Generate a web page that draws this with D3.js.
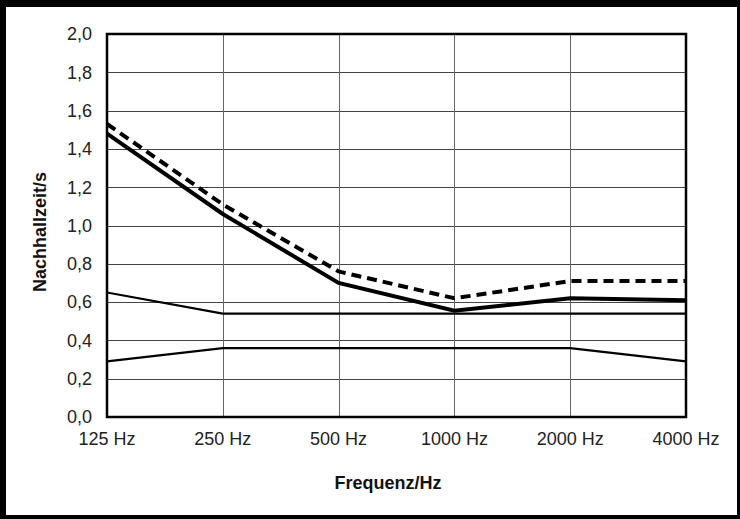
<!DOCTYPE html>
<html>
<head>
<meta charset="utf-8">
<script src="https://cdn.jsdelivr.net/npm/d3@7"></script>
<style>
  body { margin: 0; background: #fff; }
  svg { display: block; font-family: "Liberation Sans", Arial, sans-serif; }
</style>
</head>
<body>
<div id="chart"></div>
<script>
const frequencies = ['125 Hz', '250 Hz', '500 Hz', '1000 Hz', '2000 Hz', '4000 Hz'];
const measuredDashed = [1.53, 1.11, 0.76, 0.62, 0.71, 0.71];
const measuredSolid = [1.48, 1.06, 0.70, 0.555, 0.62, 0.61];
const upperLimit = [0.65, 0.54, 0.54, 0.54, 0.54, 0.54];
const lowerLimit = [0.29, 0.36, 0.36, 0.36, 0.36, 0.29];
const yTicks = [0, 0.2, 0.4, 0.6, 0.8, 1.0, 1.2, 1.4, 1.6, 1.8, 2.0];

const W = 740, H = 519;
const margin = {top: 34, right: 54, bottom: 102, left: 107};
const width = W - margin.left - margin.right;
const height = H - margin.top - margin.bottom;

const svg = d3.select('#chart').append('svg')
    .attr('width', W)
    .attr('height', H);

// outer frame (thicker on top/left like the picture)
svg.append('rect').attr('x', 0).attr('y', 0).attr('width', W).attr('height', 7).attr('fill', '#000');
svg.append('rect').attr('x', 0).attr('y', 0).attr('width', 6).attr('height', H).attr('fill', '#000');
svg.append('rect').attr('x', W - 3).attr('y', 0).attr('width', 3).attr('height', H).attr('fill', '#000');
svg.append('rect').attr('x', 0).attr('y', H - 4).attr('width', W).attr('height', 4).attr('fill', '#000');

const g = svg.append('g')
    .attr('transform', 'translate(' + margin.left + ',' + margin.top + ')');

const x = d3.scalePoint()
    .domain(frequencies)
    .range([0, width])
    .padding(0);

const y = d3.scaleLinear()
    .domain([0, 2])
    .range([height, 0]);

// grid
g.append('g').selectAll('line')
    .data(yTicks)
    .enter().append('line')
    .attr('x1', 0).attr('x2', width)
    .attr('y1', d => Math.round(y(d)) + 0.5).attr('y2', d => Math.round(y(d)) + 0.5)
    .attr('stroke', '#444')
    .attr('stroke-width', 1);

g.append('g').selectAll('line')
    .data(frequencies)
    .enter().append('line')
    .attr('x1', d => Math.round(x(d)) + 0.5).attr('x2', d => Math.round(x(d)) + 0.5)
    .attr('y1', 0).attr('y2', height)
    .attr('stroke', '#666')
    .attr('stroke-width', 1);

// y tick labels
g.append('g').selectAll('text')
    .data(yTicks)
    .enter().append('text')
    .attr('x', -15)
    .attr('y', d => y(d))
    .attr('dy', '0.35em')
    .attr('text-anchor', 'end')
    .attr('font-size', 18)
    .attr('fill', '#222')
    .text(d => d3.format('.1f')(d).replace('.', ','));

// x tick labels
g.append('g').selectAll('text')
    .data(frequencies)
    .enter().append('text')
    .attr('x', d => x(d))
    .attr('y', height + 28)
    .attr('text-anchor', 'middle')
    .attr('font-size', 18)
    .attr('fill', '#222')
    .text(d => d);

const line = d3.line()
    .x((d, i) => x(frequencies[i]))
    .y(d => y(d));

const series = [
    {values: upperLimit, width: 2.2, dash: null},
    {values: lowerLimit, width: 2.2, dash: null},
    {values: measuredSolid, width: 4, dash: null},
    {values: measuredDashed, width: 4, dash: '10,6'}
];

g.append('g').selectAll('path')
    .data(series)
    .enter().append('path')
    .attr('d', d => line(d.values))
    .attr('fill', 'none')
    .attr('stroke', '#000')
    .attr('stroke-width', d => d.width)
    .attr('stroke-dasharray', d => d.dash);

// plot frame
g.append('rect')
    .attr('x', 0).attr('y', 0)
    .attr('width', width).attr('height', height)
    .attr('fill', 'none')
    .attr('stroke', '#000')
    .attr('stroke-width', 2.5);

// axis titles
svg.append('text')
    .attr('transform', 'translate(46,232) rotate(-90)')
    .attr('text-anchor', 'middle')
    .attr('font-size', 18)
    .attr('font-weight', 'bold')
    .attr('fill', '#111')
    .text('Nachhallzeit/s');

svg.append('text')
    .attr('x', 388)
    .attr('y', 489)
    .attr('text-anchor', 'middle')
    .attr('font-size', 18)
    .attr('font-weight', 'bold')
    .attr('fill', '#111')
    .text('Frequenz/Hz');
</script>
</body>
</html>
